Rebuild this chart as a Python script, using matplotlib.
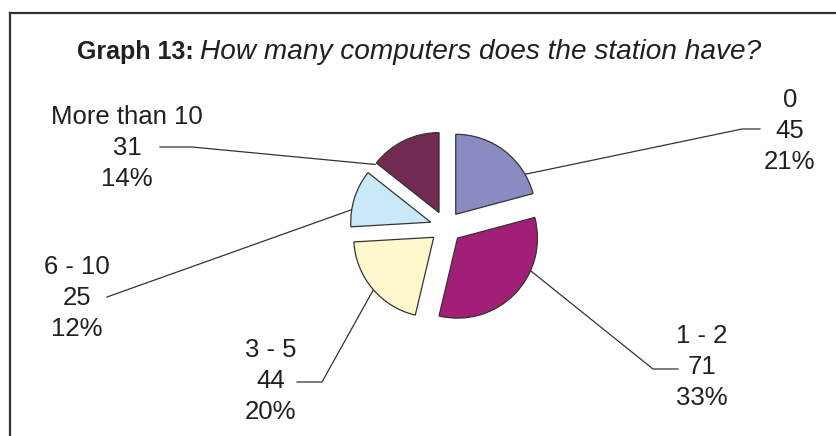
import matplotlib
matplotlib.use("Agg")
import matplotlib.pyplot as plt
from matplotlib.lines import Line2D
import numpy as np

# survey answers, clockwise from 12 o'clock
categories = ["0", "1 - 2", "3 - 5", "6 - 10", "More than 10"]
counts = [45, 71, 44, 25, 31]
percents = [21, 33, 20, 12, 14]
colors = ["#8b8bc4", "#a21f78", "#fff8cc", "#c9e9f8", "#712a52"]

W, H = 837, 436
plt.rcParams["font.family"] = ["Liberation Sans", "DejaVu Sans"]

fig = plt.figure(figsize=(W / 100, H / 100), dpi=100)
ax = fig.add_axes([0, 0, 1, 1])

# pie in pixel-like data units (y measured up from the bottom)
center = (446, H - 227)
radius = 80
gap = 0.2 * radius  # pie() takes explode in data units
wedges, _ = ax.pie(counts, colors=colors, startangle=90, counterclock=False,
                   center=center, radius=radius, explode=[gap] * len(counts),
                   wedgeprops=dict(edgecolor="#333333", linewidth=0.9),
                   frame=True)
ax.set_xlim(0, W)
ax.set_ylim(0, H)
ax.set_aspect("equal")
ax.set_axis_off()

# label placement: text centre, elbow of leader line, angle where it meets arc
label_xy = [(790, H - 131), (702, H - 367), (271, H - 381), (77, H - 298), (127, H - 148)]
elbow_xy = [[(760, H - 129), (742, H - 129)],
            [(678, H - 369), (653, H - 369)],
            [(297, H - 382), (322, H - 382)],
            [(107, H - 297)],
            [(160, H - 147), (192, H - 147)]]
attach_deg = [30, -24, -139, 171, 143]

for w, cat, n, p, (lx, ly), elbow, ang in zip(wedges, categories, counts, percents,
                                             label_xy, elbow_xy, attach_deg):
    cx, cy = w.center
    a = np.deg2rad(ang)
    start = (cx + w.r * np.cos(a), cy + w.r * np.sin(a))
    pts = elbow + [start]
    ax.add_line(Line2D([q[0] for q in pts], [q[1] for q in pts],
                       color="#333333", linewidth=0.9, zorder=0))
    ax.text(lx, ly, f"{cat}\n{n}\n{p}%", ha="center", va="center",
            multialignment="center", fontsize=18.5, color="#231f20",
            linespacing=1.35)

# frame on the top and left edges
ax.add_line(Line2D([10, 10], [0, H - 13], color="#333333", linewidth=1.6))
ax.add_line(Line2D([10, W], [H - 13, H - 13], color="#333333", linewidth=1.6))

# title: bold lead-in followed by italic question
t1 = ax.text(77, H - 59, "Graph 13:", fontsize=18, fontweight="bold",
             color="#231f20", va="baseline", ha="left")
fig.canvas.draw()
bb = t1.get_window_extent().transformed(ax.transData.inverted())
ax.text(bb.x1 + 6, H - 59, "How many computers does the station have?",
        fontsize=20.2, fontstyle="italic", color="#231f20", va="baseline", ha="left")

fig.savefig("out.png", dpi=100)
